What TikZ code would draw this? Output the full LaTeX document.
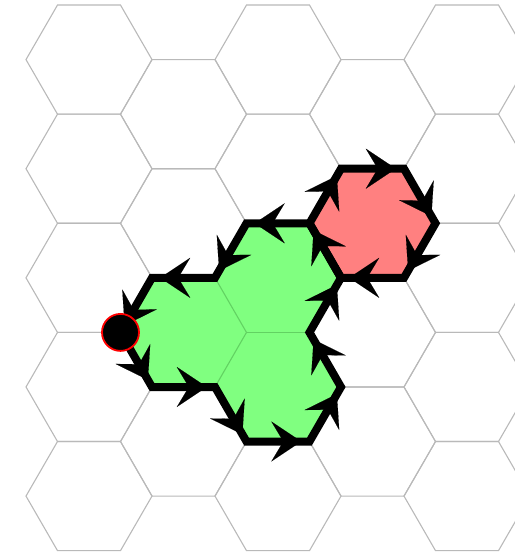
\documentclass[tikz,border=0pt]{standalone}
\usetikzlibrary{arrows.meta,calc}
\definecolor{gridgray}{RGB}{185,185,185}
\definecolor{hexgreen}{RGB}{128,255,128}
\definecolor{hexred}{RGB}{255,128,128}
\definecolor{innergreen}{RGB}{98,210,98}
\tikzset{
  x=1pt, y=-1pt,
  gridhex/.style={draw=gridgray, line width=1.1pt},
  outline/.style={draw=black, line width=8pt, line join=miter},
  innerline/.style={draw=innergreen, line width=1.1pt},
  arrowseg/.style={draw=black, line width=1pt, -{Stealth[length=30pt,width=40pt,inset=12pt,line width=0.1pt]}},
  startdot/.style={circle, fill=black, draw=red, line width=1.8pt, minimum size=37pt, inner sep=0pt}
}
\newcommand{\edgearrow}[2]{\draw[arrowseg] ($(#1)!0.3!(#2)$) -- ($(#1)!0.87!(#2)$);}
\begin{document}
\begin{tikzpicture}
\path[use as bounding box] (0,0) rectangle (515,558);
\clip (0,0) rectangle (515,558);
% grid
\foreach \c in {0,2,4} {
  \foreach \r in {0,...,4} {
    \draw[gridhex] ({89+94.5*\c+63},{59.6+109.12*\r}) -- ++(-31.5,54.56) -- ++(-63,0) -- ++(-31.5,-54.56) -- ++(31.5,-54.56) -- ++(63,0) -- cycle;
  }
}
\foreach \c in {1,3} {
  \foreach \r in {0,...,3} {
    \draw[gridhex] ({89+94.5*\c+63},{114.16+109.12*\r}) -- ++(-31.5,54.56) -- ++(-63,0) -- ++(-31.5,-54.56) -- ++(31.5,-54.56) -- ++(63,0) -- cycle;
  }
}
% vertices
\coordinate (D)   at (120.5,332.4);
\coordinate (v1)  at (152,387.0);
\coordinate (v2)  at (215,387.0);
\coordinate (v3)  at (246.5,441.5);
\coordinate (v4)  at (309.5,441.5);
\coordinate (v5)  at (341,387.0);
\coordinate (v6)  at (309.5,332.4);
\coordinate (v7)  at (341,277.8);
\coordinate (v8)  at (309.5,223.3);
\coordinate (v9)  at (246.5,223.3);
\coordinate (v10) at (215,277.8);
\coordinate (v11) at (152,277.8);
\coordinate (c0)  at (246.5,332.4);
\coordinate (r1)  at (341,168.7);
\coordinate (r2)  at (404,168.7);
\coordinate (r3)  at (435.5,223.3);
\coordinate (r4)  at (404,277.8);
% fills
\fill[hexgreen] (D) -- (v1) -- (v2) -- (v3) -- (v4) -- (v5) -- (v6) -- (v7) -- (v8) -- (v9) -- (v10) -- (v11) -- cycle;
\fill[hexred] (r1) -- (r2) -- (r3) -- (r4) -- (v7) -- (v8) -- cycle;
% inner grid lines
\draw[innerline] (v10) -- (c0) -- (v2);
\draw[innerline] (c0) -- (v6);
% outlines
\draw[outline] (D) -- (v1) -- (v2) -- (v3) -- (v4) -- (v5) -- (v6) -- (v7) -- (v8) -- (v9) -- (v10) -- (v11) -- cycle;
\draw[outline] (r1) -- (r2) -- (r3) -- (r4) -- (v7) -- (v8) -- cycle;
% arrows
\edgearrow{D}{v1}
\edgearrow{v1}{v2}
\edgearrow{v2}{v3}
\edgearrow{v3}{v4}
\edgearrow{v4}{v5}
\edgearrow{v5}{v6}
\edgearrow{v6}{v7}
\edgearrow{v7}{v8}
\edgearrow{v8}{v9}
\edgearrow{v9}{v10}
\edgearrow{v10}{v11}
\edgearrow{v11}{D}
\edgearrow{r1}{r2}
\edgearrow{r2}{r3}
\edgearrow{r3}{r4}
\edgearrow{r4}{v7}
\edgearrow{v8}{r1}
% start dot
\node[startdot] (dot) at (D) {};
\end{tikzpicture}
\end{document}
